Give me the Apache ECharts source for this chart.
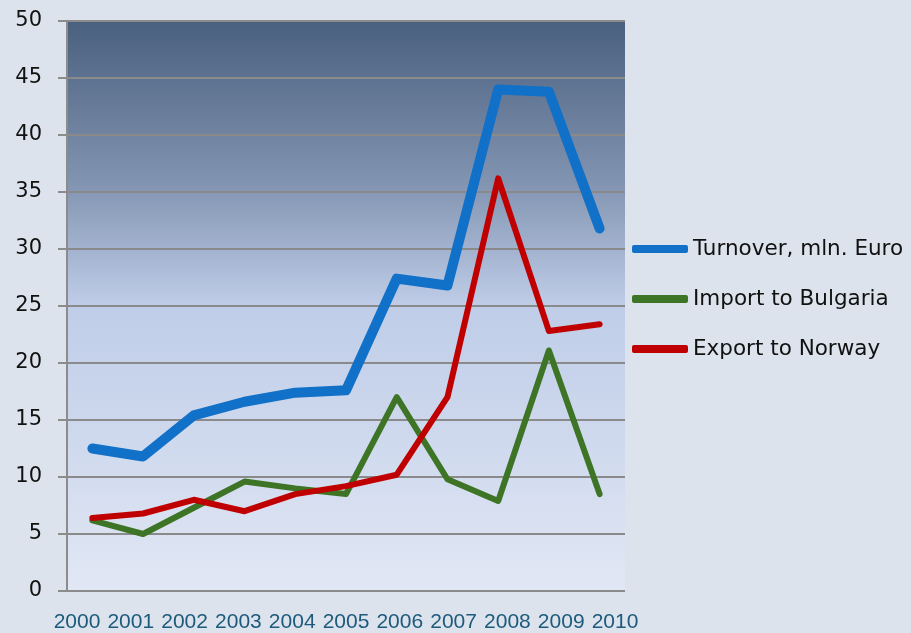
<!DOCTYPE html>
<html>
<head>
<meta charset="utf-8">
<script src="https://cdn.jsdelivr.net/npm/echarts@6/dist/echarts.min.js"></script>
<style>
html,body{margin:0;padding:0;background:#dce3ec;}
#chart{width:911px;height:633px;}
</style>
</head>
<body>
<div id="chart"></div>
<script>
var years = ['2000','2001','2002','2003','2004','2005','2006','2007','2008','2009','2010'];
var turnover = [12.5, 11.8, 15.4, 16.6, 17.4, 17.6, 27.4, 26.8, 44.0, 43.8, 31.8];
var importBg = [6.2, 5.0, 7.3, 9.6, 9.0, 8.5, 17.0, 9.8, 7.9, 21.1, 8.5];
var exportNo = [6.4, 6.8, 8.0, 7.0, 8.5, 9.2, 10.2, 17.0, 36.2, 22.8, 23.4];
var seriesNames = ['Turnover, mln. Euro','Import to Bulgaria','Export to Norway'];
var lineColors = ['#1170c8', '#3d7426', '#c00000'];

var myChart = echarts.init(document.getElementById('chart'));
var option = {
	backgroundColor: '#dce3ec',
	animation: false,
	textStyle: {fontFamily: 'DejaVu Sans'},
	grid: [
		{left: 67, top: 21, width: 558, height: 570,
		 show: true, borderWidth: 0,
		 backgroundColor: {
			type: 'linear', x: 0, y: 0, x2: 0, y2: 1,
			colorStops: [
				{offset: 0, color: '#4a607f'},
				{offset: 0.28, color: '#8093b0'},
				{offset: 0.5, color: '#bfcde8'},
				{offset: 1, color: '#e1e7f4'}
			]
		 }},
		// second grid only carries the year labels, spaced like the original
		{left: 77, top: 21, width: 538, height: 570}
	],
	legend: {
		orient: 'vertical',
		left: 627,
		top: 233,
		itemGap: 28,
		itemWidth: 56,
		itemHeight: 8,
		textStyle: {fontSize: 21.5, color: '#111', fontFamily: 'DejaVu Sans'},
		data: seriesNames.map(function (n, i) {
			return {name: n, icon: 'roundRect', itemStyle: {color: lineColors[i]}};
		})
	},
	xAxis: [
		{
			type: 'category',
			gridIndex: 0,
			data: years,
			boundaryGap: true,
			axisLine: {show: false},
			axisTick: {show: false},
			axisLabel: {show: false}
		},
		{
			type: 'category',
			gridIndex: 1,
			data: years,
			boundaryGap: false,
			axisLine: {show: false},
			axisTick: {show: false},
			axisLabel: {
				color: '#1d5a7b',
				fontSize: 21,
				fontFamily: 'Liberation Sans',
				margin: 26,
				interval: 0
			}
		}
	],
	yAxis: [
		{
			type: 'value',
			gridIndex: 0,
			min: 0,
			max: 50,
			interval: 5,
			axisLine: {show: true, lineStyle: {color: '#8c8c8c', width: 2}},
			axisTick: {show: true, length: 9, lineStyle: {color: '#8c8c8c', width: 2}},
			axisLabel: {color: '#111', fontSize: 21, fontFamily: 'DejaVu Sans', margin: 25},
			splitLine: {lineStyle: {color: '#8a8a8a', width: 2}}
		},
		{
			type: 'value',
			gridIndex: 1,
			show: false
		}
	],
	series: [
		{
			name: seriesNames[0],
			type: 'line',
			data: turnover,
			symbol: 'none',
			color: lineColors[0],
			lineStyle: {width: 10, cap: 'round', join: 'round'}
		},
		{
			name: seriesNames[1],
			type: 'line',
			data: importBg,
			symbol: 'none',
			color: lineColors[1],
			lineStyle: {width: 6, cap: 'round', join: 'round'}
		},
		{
			name: seriesNames[2],
			type: 'line',
			data: exportNo,
			symbol: 'none',
			color: lineColors[2],
			lineStyle: {width: 6, cap: 'round', join: 'round'}
		}
	]
};
myChart.setOption(option);
</script>
</body>
</html>
